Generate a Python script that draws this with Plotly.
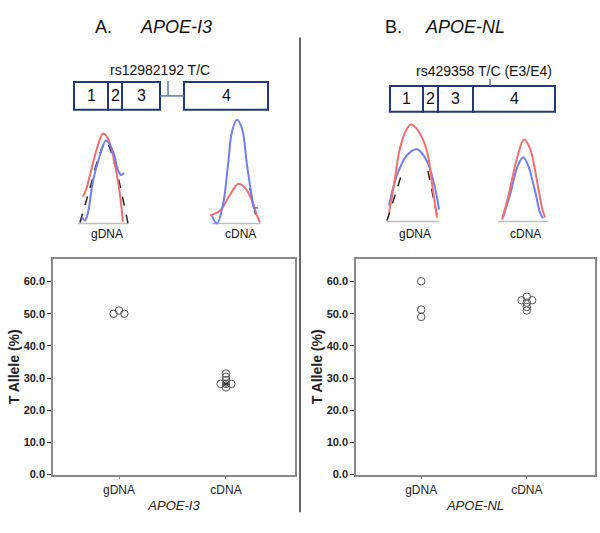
import plotly.graph_objects as go

# ---------------- data ----------------
categories = ["gDNA", "cDNA"]

# Panel A (APOE-I3) T allele %
i3_gdna = [50.0, 50.0, 51.0]
i3_gdna_off = [-0.05, 0.05, 0.0]
i3_cdna = [31.4, 30.4, 29.4, 28.2, 28.2, 28.2, 27.1]
i3_cdna_off = [0.0, 0.0, 0.0, -0.05, 0.05, 0.0, 0.0]
i3_cdna_star = [28.2]

# Panel B (APOE-NL) T allele %
nl_gdna = [60.1, 51.3, 49.0]
nl_gdna_off = [0.0, 0.0, 0.0]
nl_cdna = [55.3, 54.2, 54.2, 53.4, 52.1, 51.0]
nl_cdna_off = [0.0, -0.05, 0.05, 0.0, 0.0, 0.0]

yticks = [0, 10, 20, 30, 40, 50, 60]
ytick_text = ["0.0", "10.0", "20.0", "30.0", "40.0", "50.0", "60.0"]

# chromatogram traces (page pixel coordinates)
A_g_red_x = [83, 86, 90, 97, 103, 108, 115, 120, 123]
A_g_red_y = [199, 192, 177, 150, 135, 140, 167, 197, 224]
A_g_blue_x = [82, 85, 88, 93, 100, 106, 113, 118, 121, 124]
A_g_blue_y = [220, 223, 215, 183, 157, 142, 153, 172, 177, 175]
A_g_dash_x = [80, 90, 100, 106, 115, 122, 128]
A_g_dash_y = [225, 190, 155, 143, 167, 197, 226]
A_g_base_x = [78, 128]
A_g_base_y = [226, 226]

A_c_blue_x = [212, 217, 223, 228, 232, 237, 242, 247, 252, 254, 258]
A_c_blue_y = [218, 226, 207, 167, 133, 121, 130, 167, 200, 210, 210]
A_c_red_x = [210, 220, 230, 238, 245, 252, 257, 260]
A_c_red_y = [218, 213, 197, 186, 190, 203, 218, 225]
A_c_dash_x = [250, 257]
A_c_dash_y = [190, 224]
A_c_base_x = [212, 260]
A_c_base_y = [226, 226]

B_g_red_x = [389, 393, 400, 406, 411, 418, 427, 433, 437]
B_g_red_y = [215, 193, 150, 132, 126, 132, 153, 193, 220]
B_g_blue_x = [389, 397, 407, 417, 427, 435, 439]
B_g_blue_y = [208, 177, 157, 151, 163, 190, 212]
B_g_dashL_x = [387, 402]
B_g_dashL_y = [223, 175]
B_g_dashR_x = [428, 438]
B_g_dashR_y = [173, 223]
B_g_base_x = [387, 439]
B_g_base_y = [224, 224]

B_c_red_x = [502, 508, 517, 524, 530, 537, 542, 545]
B_c_red_y = [222, 200, 160, 141, 150, 183, 210, 220]
B_c_blue_x = [503, 510, 517, 523, 528, 535, 540, 543]
B_c_blue_y = [220, 197, 170, 159, 167, 193, 215, 221]
B_c_base_x = [498, 548]
B_c_base_y = [224, 224]

# gene diagram exon boxes (page pixel coordinates)
A_exon_x0 = [74, 108, 122, 184]
A_exon_x1 = [108, 122, 160, 268]
A_exon_labels = ["1", "2", "3", "4"]
B_exon_x0 = [390, 423, 438, 473]
B_exon_x1 = [423, 438, 473, 555]
B_exon_labels = ["1", "2", "3", "4"]

W, H = 600, 533
FONT = "Arial, Liberation Sans, sans-serif"
RED = "#f46e6e"
BLUE = "#6f7ef2"
NAVY = "#1f3a7a"
AXC = "#8a8a8a"

fig = go.Figure()

def pts(x0, offs):
    return [x0 + o for o in offs]

circ = dict(symbol="circle-open", size=7.5, color="#555555", line=dict(width=1, color="#555555"))

# Panel A scatter
fig.add_trace(go.Scatter(x=pts(0, i3_gdna_off), y=i3_gdna, mode="markers", marker=circ, xaxis="x", yaxis="y", showlegend=False))
fig.add_trace(go.Scatter(x=pts(1, i3_cdna_off), y=i3_cdna, mode="markers", marker=circ, xaxis="x", yaxis="y", showlegend=False))
fig.add_trace(go.Scatter(x=[1], y=i3_cdna_star, mode="markers",
                         marker=dict(symbol="asterisk-open", size=6, color="#333", line=dict(width=1, color="#333")),
                         xaxis="x", yaxis="y", showlegend=False))
# Panel B scatter
fig.add_trace(go.Scatter(x=pts(0, nl_gdna_off), y=nl_gdna, mode="markers", marker=circ, xaxis="x2", yaxis="y2", showlegend=False))
fig.add_trace(go.Scatter(x=pts(1, nl_cdna_off), y=nl_cdna, mode="markers", marker=circ, xaxis="x2", yaxis="y2", showlegend=False))

# Overlay (pixel) traces
def line(x, y, color, width=2, dash="solid", spline=True):
    fig.add_trace(go.Scatter(x=x, y=y, mode="lines", xaxis="x3", yaxis="y3", showlegend=False,
                             hoverinfo="skip",
                             line=dict(color=color, width=width, dash=dash,
                                       shape="spline" if spline else "linear", smoothing=1.0)))

BASE = "#b8c4b8"
for bx, by in [(A_g_base_x, A_g_base_y), (A_c_base_x, A_c_base_y), (B_g_base_x, B_g_base_y), (B_c_base_x, B_c_base_y)]:
    line(bx, by, BASE, 1.5, spline=False)
line(A_g_dash_x, A_g_dash_y, "#222222", 1.5, "dash")
line(A_c_dash_x, A_c_dash_y, "#222222", 1.5, "dash", spline=False)
line(B_g_dashL_x, B_g_dashL_y, "#222222", 1.5, "dash", spline=False)
line(B_g_dashR_x, B_g_dashR_y, "#222222", 1.5, "dash", spline=False)
line(A_g_red_x, A_g_red_y, RED)
line(A_g_blue_x, A_g_blue_y, BLUE)
line(A_c_red_x, A_c_red_y, RED)
line(A_c_blue_x, A_c_blue_y, BLUE)
line(B_g_blue_x, B_g_blue_y, BLUE)
line(B_g_red_x, B_g_red_y, RED)
line(B_c_blue_x, B_c_blue_y, BLUE)
line(B_c_red_x, B_c_red_y, RED)

shapes = []
annotations = []

def pshape(**kw):
    d = dict(xref="x3", yref="y3", layer="above")
    d.update(kw)
    shapes.append(d)

def ptext(x, y, text, size, xanchor="center", color="#111", bold=False):
    annotations.append(dict(x=x, y=y, xref="x3", yref="y3", text=("<b>%s</b>" % text) if bold else text,
                            showarrow=False, xanchor=xanchor, yanchor="middle",
                            font=dict(family=FONT, size=size, color=color)))

# divider
pshape(type="line", x0=300, x1=300, y0=38, y1=518, line=dict(color="#333333", width=1.5))

# exon boxes A
for x0, x1, lab in zip(A_exon_x0, A_exon_x1, A_exon_labels):
    pshape(type="rect", x0=x0, x1=x1, y0=83, y1=111, line=dict(color=NAVY, width=2))
    ptext((x0 + x1) / 2, 97, lab, 16)
pshape(type="line", x0=160, x1=184, y0=97, y1=97, line=dict(color="#5a7aa8", width=1.5))
pshape(type="line", x0=168, x1=168, y0=82, y1=97, line=dict(color="#5a7aa8", width=1.5))
# exon boxes B
for x0, x1, lab in zip(B_exon_x0, B_exon_x1, B_exon_labels):
    pshape(type="rect", x0=x0, x1=x1, y0=87, y1=113, line=dict(color=NAVY, width=2))
    ptext((x0 + x1) / 2, 100, lab, 16)
pshape(type="line", x0=490, x1=490, y0=80, y1=87, line=dict(color="#5a7aa8", width=1.5))

# titles
ptext(93, 27, "A.", 18, "left")
ptext(138, 27, "<i>APOE-I3</i>", 18, "left")
ptext(383, 27, "B.", 18, "left")
ptext(423, 27, "<i>APOE-NL</i>", 18, "left")
ptext(160, 71, "rs12982192 T/C", 14)
ptext(484, 72, "rs429358 T/C (E3/E4)", 14)
ptext(107, 237, "gDNA", 12)
ptext(240, 237, "cDNA", 12)
ptext(415, 237, "gDNA", 12)
ptext(525, 237, "cDNA", 12)

def yax(anchor):
    return dict(domain=[1 - 480 / H, 1 - 262 / H], range=[0, 67], anchor=anchor,
                tickvals=yticks, ticktext=["<b>%s</b>" % t for t in ytick_text],
                ticks="outside", ticklen=4, tickcolor="#333",
                showline=True, linecolor=AXC, linewidth=1.5, mirror=True, showgrid=False, zeroline=False,
                tickfont=dict(family=FONT, size=11, color="#222"),
                title=dict(text="<b>T Allele (%)</b>", font=dict(family=FONT, size=14, color="#222"), standoff=1))

def xax(anchor, dom, title):
    return dict(domain=dom, range=[-0.617, 1.645], anchor=anchor,
                tickvals=[0, 1], ticktext=categories, ticks="outside", ticklen=3, tickcolor=AXC,
                showline=True, linecolor=AXC, linewidth=1.5, mirror=True, showgrid=False, zeroline=False,
                tickfont=dict(family=FONT, size=12, color="#222"),
                title=dict(text="<i>%s</i>" % title, font=dict(family=FONT, size=13, color="#222"), standoff=5))

fig.update_layout(
    width=W, height=H, margin=dict(l=0, r=0, t=0, b=0),
    paper_bgcolor="white", plot_bgcolor="rgba(0,0,0,0)",
    xaxis=xax("y", [53 / W, 295 / W], "APOE-I3"),
    yaxis=yax("x"),
    xaxis2=xax("y2", [356 / W, 595 / W], "APOE-NL"),
    yaxis2=yax("x2"),
    xaxis3=dict(domain=[0, 1], range=[0, W], anchor="y3", visible=False, fixedrange=True),
    yaxis3=dict(domain=[0, 1], range=[H, 0], anchor="x3", visible=False, fixedrange=True),
    shapes=shapes, annotations=annotations,
    font=dict(family=FONT),
)

fig.write_html("out.html", config={"displayModeBar": False},
               post_script="document.body.style.margin='0';")
